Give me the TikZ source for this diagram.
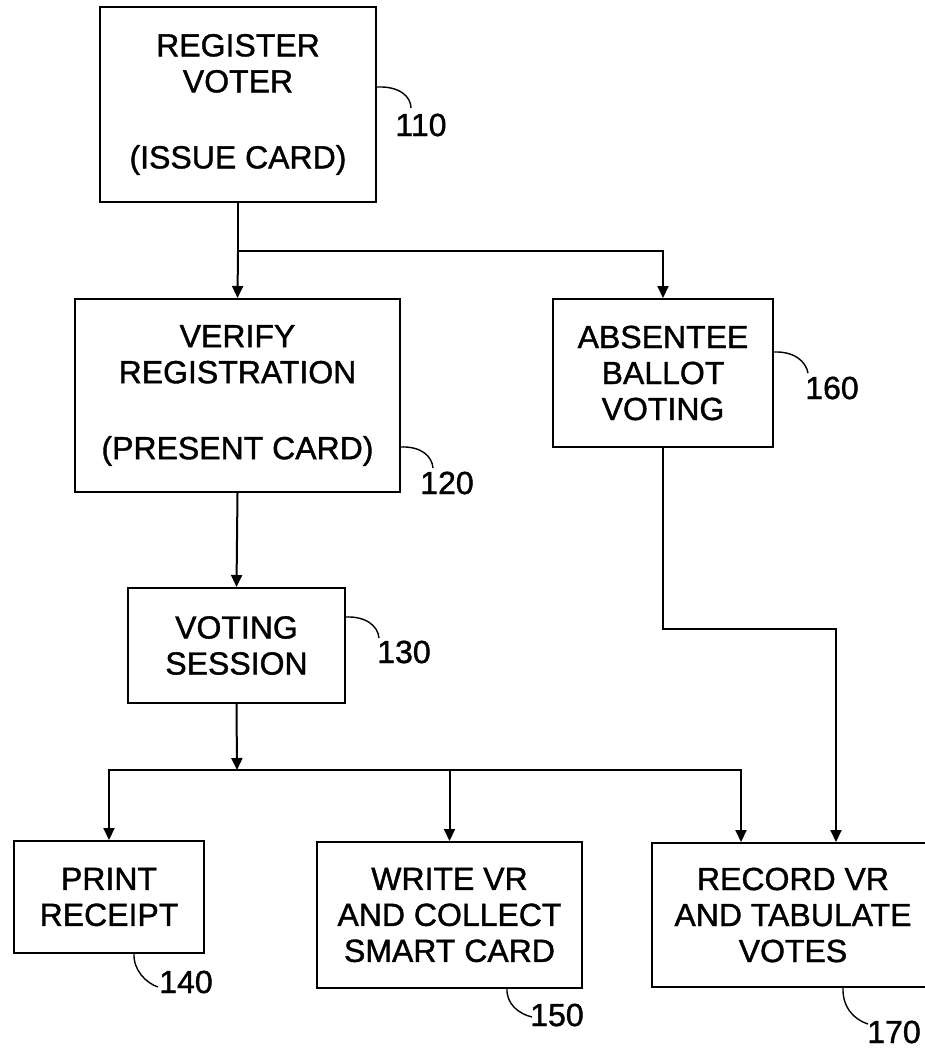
\documentclass[tikz,border=0pt]{standalone}
\usepackage{fontspec}
\setmainfont[FakeBold=1.2,AutoFakeBold=1.2]{Liberation Sans}
\usetikzlibrary{arrows.meta,calc}
\begin{document}
\begin{tikzpicture}[x=1pt,y=-1pt,
  box/.style={draw,line width=2pt,inner sep=0pt,align=center,font=\fontsize{32}{36}\selectfont\bfseries},
  arr/.style={line width=2pt,-{Triangle[length=12pt,width=11pt]}},
  conn/.style={line width=2pt},
  lead/.style={line width=1.4pt},
  lbl/.style={inner sep=0pt,font=\fontsize{32}{36}\selectfont\bfseries}]
\useasboundingbox (0,0) rectangle (924,1049);
% boxes
\node[box,minimum width=276pt,minimum height=195pt] (b110) at (238,104.5) {REGISTER\\VOTER\\[40pt](ISSUE CARD)};
\node[box,minimum width=325pt,minimum height=193pt] (b120) at (237.5,395.5) {VERIFY\\REGISTRATION\\[40pt](PRESENT CARD)};
\node[box,minimum width=220pt,minimum height=148pt] (b160) at (663,373) {ABSENTEE\\BALLOT\\VOTING};
\node[box,minimum width=217pt,minimum height=115pt] (b130) at (236.5,645.5) {VOTING\\SESSION};
\node[box,minimum width=190pt,minimum height=112pt] (b140) at (109,897) {PRINT\\RECEIPT};
\node[box,minimum width=265pt,minimum height=146pt] (b150) at (449.5,915) {WRITE VR\\AND COLLECT\\SMART CARD};
\node[box,minimum width=282pt,minimum height=144pt] (b170) at (793,915) {RECORD VR\\AND TABULATE\\VOTES};
% junctions
\coordinate (j1) at (238,251);
\coordinate (j2) at (237,770);
\coordinate (j3) at (741,770);
\coordinate (j4) at (663,629);
\coordinate (j5) at (836,629);
% connectors
\draw[conn] (b110.south) -- (j1);
\draw[arr] (j1) -- (b120.north);
\draw[arr] (j1) -| (b160.north);
\draw[arr] (b120.south) -- (b130.north);
\draw[arr] (b130.south) -- (j2);
\draw[arr] (j2) -| (b140.north);
\draw[arr] (j2) -| (b150.north);
\draw[arr] (j2) -- (j3) -- (j3 |- b170.north);
\draw[arr] (b160.south) -- (j4) -- (j5) -- (j5 |- b170.north);
% reference labels
\coordinate (l110a) at (377,87);   \coordinate (l110b) at (411,108);
\coordinate (l160a) at (773,352);  \coordinate (l160b) at (808,373);
\coordinate (l120a) at (400,447);  \coordinate (l120b) at (433,468);
\coordinate (l130a) at (345,617);  \coordinate (l130b) at (379,638);
\coordinate (l140a) at (134,953);  \coordinate (l140b) at (158,987);
\coordinate (l150a) at (507,988);  \coordinate (l150b) at (532,1017);
\coordinate (l170a) at (843,987);  \coordinate (l170b) at (868,1024);
\draw[lead] (l110a) .. controls (400,86) and (411,97) .. (l110b);
\draw[lead] (l160a) .. controls (795,351) and (806,362) .. (l160b);
\draw[lead] (l120a) .. controls (421,446) and (432,456) .. (l120b);
\draw[lead] (l130a) .. controls (366,616) and (378,626) .. (l130b);
\draw[lead] (l140a) .. controls (133,970) and (146,983) .. (l140b);
\draw[lead] (l150a) .. controls (506,1004) and (519,1014) .. (l150b);
\draw[lead] (l170a) .. controls (842,1008) and (855,1020) .. (l170b);
\node[lbl] (t110) at (421,125) {110};
\node[lbl] (t160) at (832,388) {160};
\node[lbl] (t120) at (447,483) {120};
\node[lbl] (t130) at (404,652) {130};
\node[lbl] (t140) at (186,982) {140};
\node[lbl] (t150) at (557,1015) {150};
\node[lbl] (t170) at (894,1032) {170};
\end{tikzpicture}
\end{document}
